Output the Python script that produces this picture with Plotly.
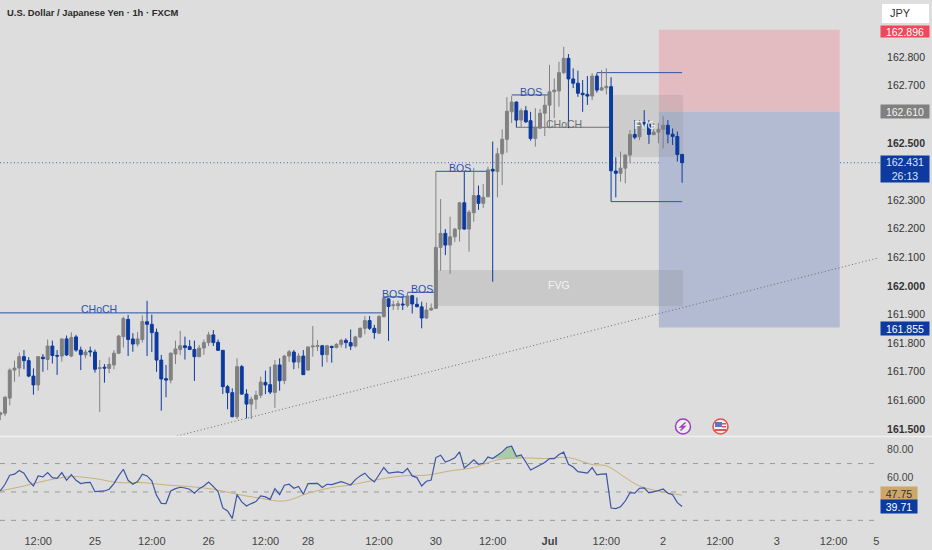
import plotly.graph_objects as go

BG = "#dddddd"
BLUE = "#0c3a9f"
GRAY = "#808080"
LINE = "#2f52a6"
FONT = "Liberation Sans"

bar_index = list(range(145))
opens = [161.550,161.555,161.608,161.706,161.713,161.753,161.739,161.685,161.654,161.751,
161.743,161.790,161.757,161.755,161.815,161.755,161.822,161.776,161.759,161.773,
161.769,161.711,161.716,161.712,161.724,161.765,161.823,161.883,161.815,161.797,
161.813,161.875,161.866,161.838,161.741,161.676,161.671,161.762,161.778,161.791,
161.788,161.778,161.753,161.783,161.802,161.829,161.803,161.775,161.648,161.627,
161.543,161.718,161.622,161.587,161.604,161.618,161.663,161.655,161.628,161.724,
161.669,161.755,161.769,161.734,161.755,161.706,161.787,161.788,161.791,161.760,
161.789,161.785,161.796,161.810,161.802,161.790,161.822,161.852,161.879,161.852,
161.835,161.893,161.955,161.931,161.931,161.937,161.932,161.966,161.936,161.927,
161.888,161.916,161.922,162.135,162.184,162.143,162.172,162.199,162.291,162.199,
162.256,162.316,162.289,162.312,162.408,162.400,162.462,162.513,162.609,162.643,
162.580,162.613,162.578,162.516,162.552,162.604,162.632,162.679,162.682,162.746,
162.796,162.724,162.709,162.674,162.670,162.664,162.734,162.685,162.693,162.697,
162.402,162.394,162.412,162.458,162.530,162.522,162.572,162.566,162.529,162.538,
162.548,162.562,162.531,162.523,162.460]
highs = [161.560,161.615,161.712,161.739,161.767,161.776,161.751,161.712,161.755,161.762,
161.813,161.809,161.776,161.816,161.827,161.838,161.829,161.788,161.778,161.788,
161.778,161.741,161.727,161.751,161.776,161.829,161.893,161.899,161.835,161.839,
161.897,161.948,161.900,161.851,161.759,161.724,161.768,161.809,161.843,161.823,
161.811,161.809,161.794,161.813,161.840,161.846,161.813,161.776,161.654,161.642,
161.747,161.724,161.639,161.613,161.634,161.683,161.704,161.718,161.741,161.747,
161.759,161.776,161.776,161.765,161.776,161.788,161.860,161.811,161.794,161.794,
161.791,161.800,161.815,161.817,161.848,161.826,161.855,161.895,161.895,161.864,
161.899,161.960,161.957,161.949,161.949,161.960,161.977,161.969,161.960,161.945,
161.942,161.939,162.401,162.304,162.199,162.242,162.203,162.294,162.400,162.266,
162.413,162.351,162.357,162.417,162.505,162.483,162.548,162.660,162.664,162.646,
162.621,162.629,162.609,162.622,162.619,162.668,162.773,162.726,162.784,162.836,
162.811,162.761,162.753,162.720,162.734,162.744,162.744,162.755,162.761,162.730,
162.450,162.470,162.460,162.545,162.580,162.580,162.615,162.580,162.577,162.570,
162.594,162.580,162.551,162.540,162.462]
lows = [161.531,161.545,161.583,161.665,161.683,161.709,161.681,161.620,161.634,161.700,
161.706,161.729,161.689,161.735,161.755,161.751,161.770,161.706,161.747,161.753,
161.697,161.560,161.662,161.695,161.709,161.762,161.785,161.755,161.770,161.788,
161.802,161.755,161.769,161.700,161.564,161.611,161.660,161.727,161.759,161.743,
161.776,161.668,161.751,161.759,161.790,161.790,161.773,161.622,161.569,161.541,
161.535,161.620,161.537,161.535,161.569,161.608,161.622,161.622,161.574,161.634,
161.657,161.735,161.709,161.712,161.689,161.704,161.753,161.773,161.718,161.733,
161.732,161.782,161.785,161.782,161.776,161.785,161.817,161.831,161.846,161.815,
161.832,161.890,161.808,161.916,161.916,161.916,161.925,161.904,161.925,161.852,
161.885,161.913,161.920,162.053,162.108,162.042,162.154,162.155,162.197,162.120,
162.225,162.266,162.273,162.311,162.015,162.310,162.353,162.466,162.570,162.555,
162.556,162.570,162.508,162.487,162.551,162.524,162.551,162.587,162.627,162.741,
162.552,162.692,162.661,162.609,162.633,162.650,162.676,162.683,162.670,162.295,
162.310,162.365,162.359,162.430,162.513,162.510,162.548,162.497,162.528,162.499,
162.481,162.499,162.493,162.435,162.361]
closes = [161.557,161.611,161.706,161.713,161.753,161.739,161.685,161.654,161.753,161.746,
161.790,161.757,161.755,161.815,161.759,161.820,161.776,161.760,161.769,161.770,
161.709,161.714,161.713,161.726,161.765,161.825,161.886,161.813,161.797,161.815,
161.876,161.866,161.837,161.741,161.675,161.671,161.765,161.780,161.791,161.785,
161.778,161.753,161.783,161.802,161.829,161.802,161.775,161.648,161.627,161.543,
161.718,161.622,161.587,161.604,161.618,161.664,161.654,161.629,161.724,161.669,
161.755,161.770,161.734,161.755,161.690,161.787,161.790,161.792,161.760,161.791,
161.785,161.796,161.810,161.802,161.790,161.822,161.852,161.879,161.852,161.837,
161.893,161.956,161.928,161.934,161.938,161.934,161.965,161.937,161.928,161.888,
161.916,161.922,162.135,162.184,162.143,162.172,162.199,162.291,162.199,162.258,
162.316,162.289,162.310,162.406,162.402,162.462,162.513,162.611,162.643,162.580,
162.613,162.574,162.516,162.555,162.604,162.632,162.679,162.685,162.746,162.796,
162.724,162.709,162.674,162.669,162.664,162.734,162.685,162.693,162.698,162.403,
162.394,162.412,162.458,162.530,162.520,162.569,162.566,162.530,162.538,162.548,
162.562,162.531,162.523,162.460,162.431]

rsi = [50.7,55.4,61.8,62.5,65.1,63.2,57.8,54.2,61.3,60.6,63.6,60.1,59.6,63.6,58.2,62.2,58.2,55.9,56.6,56.8,
50.2,50.7,50.7,51.9,55.9,61.3,66.0,58.2,55.4,57.3,62.5,61.3,57.8,47.6,42.0,41.8,50.7,52.3,53.3,52.8,
51.9,49.1,52.3,54.2,57.0,53.8,50.2,38.7,36.6,31.4,48.1,43.0,40.1,41.8,43.2,47.2,46.5,44.8,52.3,48.1,
54.7,55.4,52.6,53.8,48.4,55.9,56.1,56.1,53.1,55.4,55.2,56.1,57.3,56.1,54.9,58.7,61.3,63.2,59.6,57.0,
61.8,67.2,63.2,63.4,64.1,63.4,66.5,61.3,60.1,54.2,57.5,58.4,74.2,75.9,71.1,72.3,74.0,78.2,66.9,69.5,
72.6,69.5,70.2,74.7,73.5,75.9,78.2,81.5,82.2,75.1,76.1,71.1,65.5,67.2,69.2,70.7,73.5,73.5,76.4,78.0,
69.5,67.6,64.3,63.6,63.2,67.2,62.0,62.5,62.7,38.7,38.3,39.6,43.6,49.5,49.1,52.6,52.8,49.3,50.0,50.9,
52.1,49.1,48.1,42.5,39.71]
rsi_ma_index = [0,5,10,15,20,25,30,35,40,45,50,55,60,65,70,74,80,85,90,95,100,105,110,115,120,125,128,132,135,140,144]
rsi_ma = [50.7,54.2,58.2,60.8,59.4,56.6,56.6,54.9,53.8,51.9,48.4,45.5,43.6,49.1,53.1,54.9,58.9,61.3,61.8,64.8,67.2,72.6,74.0,73.5,74.2,69.3,68.4,60.1,54.2,50.0,47.75]
rsi_fill_index = [103,104,105,106,107,108,109,110]
rsi_fill_floor = [73.6,73.6,73.6,73.6,73.6,73.6,73.6,73.6]
rsi_levels = [70,50,30]

time_ticks = [8,20,32,44,56,65,80,92,104,116,128,140,152,164,176,185]
time_labels = ["12:00","25","12:00","26","12:00","28","12:00","30","12:00","<b>Jul</b>","12:00","2","12:00","3","12:00","5"]
price_ticks = [162.8,162.7,162.5,162.3,162.2,162.1,162.0,161.9,161.8,161.7,161.6,161.5]
price_labels = ["162.800","162.700","<b>162.500</b>","162.300","162.200","162.100","<b>162.000</b>","161.900","161.800","161.700","161.600","<b>161.500</b>"]

stop_price, entry_price, target_price, last_price = 162.896, 162.610, 161.855, 162.431
trade_start, trade_end = 139.1, 177.3
fvg_low, fvg_high, fvg_start, fvg_end = 161.930, 162.056, 92, 144.2
block_low, block_high, block_start, block_end = 162.451, 162.668, 129, 144.2
# (start bar, end bar, price, colour)
levels = [(-2,81,161.906,LINE),(81,86,161.962,LINE),(86,92,161.978,LINE),(92,103,162.401,LINE),
          (108,116,162.668,LINE),(109,129,162.555,"#707070"),(126,144,162.746,LINE),(129,144,162.295,LINE)]
# (bar, price, text, colour)
level_labels = [(20.8,161.918,"CHoCH",LINE),(83,161.972,"BOS",LINE),(89,161.988,"BOS",LINE),
                (97,162.412,"BOS",LINE),(112,162.680,"BOS",LINE),(119,162.566,"CHoCH","#707070"),
                (136.2,162.562,"FVG","#f2f2f2"),(118,162.002,"FVG","#f2f2f2")]
trend_bars = [37.3,185.4]
trend_prices = [161.4755,162.098]

W, H = 932, 550
PANE_RIGHT = 880


def px(x):
    return x / W


def py(y):
    return 1 - y / H


fig = go.Figure()
fig.add_trace(go.Scatter(x=trend_bars, y=trend_prices, mode="lines", yaxis="y",
                         line=dict(color="#6a6a6a", width=1, dash="1px,2.5px"), hoverinfo="skip"))
fig.add_trace(go.Candlestick(x=bar_index, open=opens, high=highs, low=lows, close=closes, yaxis="y",
                             increasing=dict(line=dict(color=GRAY, width=1), fillcolor=GRAY),
                             decreasing=dict(line=dict(color=BLUE, width=1), fillcolor=BLUE),
                             whiskerwidth=0))
fig.add_trace(go.Scatter(x=rsi_fill_index, y=rsi_fill_floor, mode="lines", yaxis="y2",
                         line=dict(width=0), hoverinfo="skip"))
fig.add_trace(go.Scatter(x=rsi_fill_index, y=rsi[103:111], mode="lines", yaxis="y2", fill="tonexty",
                         fillcolor="rgba(120,185,120,0.5)", line=dict(width=0), hoverinfo="skip"))
fig.add_trace(go.Scatter(x=rsi_ma_index, y=rsi_ma, mode="lines", yaxis="y2",
                         line=dict(color="#c9b07a", width=1, shape="spline"), hoverinfo="skip"))
fig.add_trace(go.Scatter(x=bar_index, y=rsi, mode="lines", yaxis="y2",
                         line=dict(color="#3d55a5", width=1.2), hoverinfo="skip"))

shapes = []


def rect(x0, x1, y0, y1, color):
    shapes.append(dict(type="rect", xref="x", yref="y", x0=x0, x1=x1, y0=y0, y1=y1,
                       fillcolor=color, line_width=0, layer="below"))


rect(trade_start, trade_end, entry_price, stop_price, "#e3bcc1")
rect(trade_start, trade_end, target_price, entry_price, "#b3bbd2")
rect(fvg_start, fvg_end, fvg_low, fvg_high, "rgba(130,130,130,0.22)")
rect(block_start, block_end, block_low, block_high, "rgba(130,130,130,0.18)")
for x0, x1, price, color in levels:
    shapes.append(dict(type="line", xref="x", yref="y", x0=x0, x1=x1, y0=price, y1=price,
                       line=dict(color=color, width=1), layer="below"))
shapes.append(dict(type="line", xref="paper", yref="y", x0=0, x1=px(PANE_RIGHT), y0=last_price, y1=last_price,
                   line=dict(color="#4a60a8", width=1, dash="1px,2.5px"), layer="below"))
for level in rsi_levels:
    shapes.append(dict(type="line", xref="paper", yref="y2", x0=0, x1=px(PANE_RIGHT), y0=level, y1=level,
                       line=dict(color="#9a9a9a", width=1, dash="5px,6px"), layer="below"))
shapes.append(dict(type="line", xref="paper", yref="paper", x0=0, x1=1, y0=py(436.5), y1=py(436.5),
                   line=dict(color="#f1f1f1", width=1.5), layer="above"))
# JPY button
shapes.append(dict(type="rect", xref="paper", yref="paper", x0=px(882), x1=px(929), y0=py(23), y1=py(4),
                   fillcolor="#ffffff", line_width=0, layer="above"))


def circle(cx, cy, r, fill, outline, width):
    shapes.append(dict(type="circle", xref="paper", yref="paper", x0=px(cx - r), x1=px(cx + r),
                       y0=py(cy + r), y1=py(cy - r), fillcolor=fill, line=dict(color=outline, width=width)))


def box(x0, x1, y0, y1, fill):
    shapes.append(dict(type="rect", xref="paper", yref="paper", x0=px(x0), x1=px(x1),
                       y0=py(y1), y1=py(y0), fillcolor=fill, line_width=0))


circle(683, 426.5, 7.5, "#eeeeee", "#9b3fc0", 1.5)
circle(720.5, 426.5, 7.5, "#f2f2f2", "#e25555", 1.6)
box(715, 726, 429, 431, "#e25555")
box(715, 722, 422, 427, "#5577c9")
box(722, 726, 423, 424.5, "#e25555")
box(722, 726, 426, 427.5, "#e25555")
# lightning mark
zap = [(685.5, 422.5), (680.5, 427), (684.8, 426.5), (680.5, 430.5)]
shapes.append(dict(type="path", xref="paper", yref="paper",
                   path="M " + " L ".join(f"{px(a):.5f},{py(b):.5f}" for a, b in zap),
                   line=dict(color="#9b3fc0", width=1.4)))

annotations = []


def note(x, y, text, color, size=11, xanchor="center", **kw):
    annotations.append(dict(xref="paper", yref="paper", x=px(x), y=py(y), text=text, showarrow=False,
                            xanchor=xanchor, yanchor="middle", font=dict(family=FONT, color=color, size=size), **kw))


def tag(y, text, bg, color, width=48, height=12):
    annotations.append(dict(xref="paper", yref="paper", x=px(880), y=py(y), text=text, showarrow=False,
                            xanchor="left", yanchor="middle", width=width, height=height, borderpad=0,
                            align="center", bgcolor=bg, font=dict(family=FONT, color=color, size=10.5)))


for bar, price, text, color in level_labels:
    annotations.append(dict(xref="x", yref="y", x=bar, y=price, text=text, showarrow=False, yanchor="middle",
                            font=dict(family=FONT, color=color, size=10.5)))
note(5, 12, "<b>U.S. Dollar / Japanese Yen · 1h · FXCM</b>", "#2a2a2a", 9.4, "left")
note(888, 13.5, "JPY", "#333333", 11, "left")
tag(31, "162.896", "#f0475a", "#ffffff", height=11)
tag(112, "162.610", "#808080", "#f4f4f4", height=13)
tag(168.5, "162.431<br>26:13", BLUE, "#dfe6ff", height=26)
tag(328, "161.855", BLUE, "#ffffff", height=13)
tag(493.5, "47.75", "#cda76a", "#333333", width=36, height=13)
tag(506.5, "39.71", BLUE, "#ffffff", width=36, height=13)

fig.update_layout(
    width=W, height=H, margin=dict(l=0, r=0, t=0, b=0), paper_bgcolor=BG, plot_bgcolor=BG,
    showlegend=False, hovermode=False, font=dict(family=FONT, color="#333333", size=11),
    shapes=shapes, annotations=annotations, boxgap=0.12,
    xaxis=dict(domain=[0, px(PANE_RIGHT)], range=[-0.06, 185.8], anchor="y2", rangeslider=dict(visible=False),
               tickmode="array", tickvals=time_ticks, ticktext=time_labels, showgrid=False, zeroline=False,
               showline=False, ticks="outside", ticklen=3, tickcolor="rgba(0,0,0,0)", tickfont=dict(size=11, color="#444444")),
    yaxis=dict(domain=[py(436), 1], range=[161.4755, 163], side="right", anchor="x", tickmode="array",
               tickvals=price_ticks, ticktext=price_labels, showgrid=False, zeroline=False, showline=False,
               ticks="outside", ticklen=4, tickcolor="rgba(0,0,0,0)", tickfont=dict(size=10.5, color="#333333")),
    yaxis2=dict(domain=[py(528), py(437)], range=[24.6, 88.7], side="right", anchor="x", tickmode="array",
                tickvals=[80, 60], ticktext=["80.00", "60.00"], showgrid=False, zeroline=False, showline=False,
                ticks="outside", ticklen=4, tickcolor="rgba(0,0,0,0)", tickfont=dict(size=10.5, color="#444444")),
)

fig.write_html("out.html", config={"displayModeBar": False}, post_script="document.body.style.margin='0';")
